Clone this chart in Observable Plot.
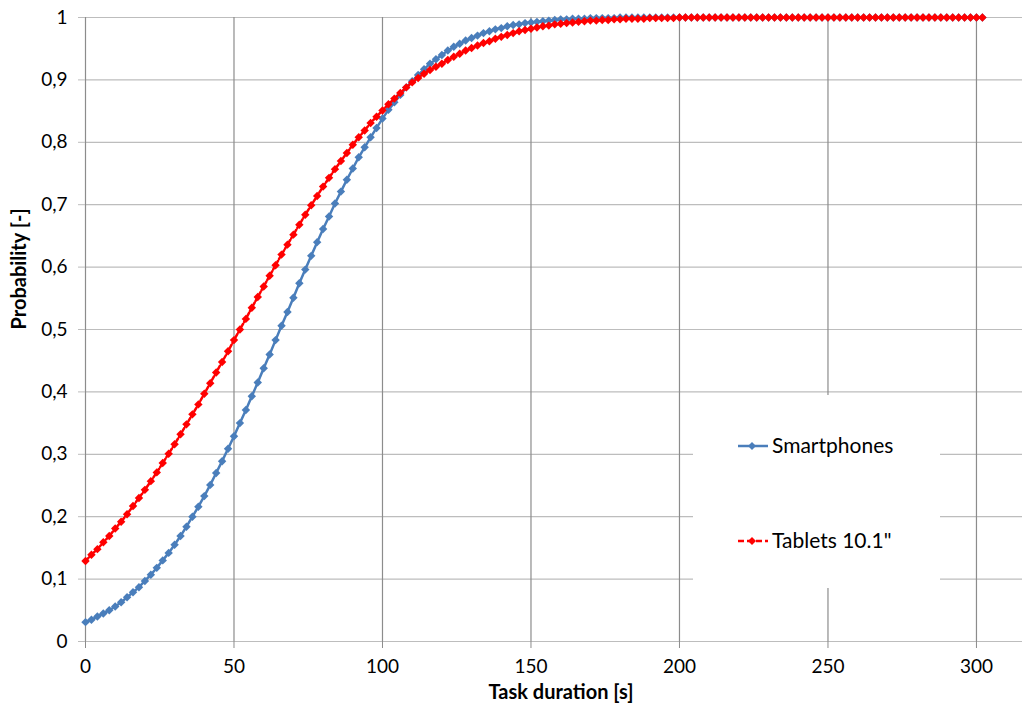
<!DOCTYPE html>
<html><head><meta charset="utf-8">
<script src="https://cdn.jsdelivr.net/npm/d3@7"></script>
<script src="https://cdn.jsdelivr.net/npm/@observablehq/plot@0.6"></script>
<style>
body{margin:0;background:#fff;}
#wrap{position:relative;width:1025px;height:706px;overflow:hidden;}
#legend{position:absolute;left:693px;top:395px;width:247px;height:193px;background:#fff;}
</style></head><body><div id="wrap"></div>
<script>
const durations = [0,2,4,6,8,10,12,14,16,18,20,22,24,26,28,30,32,34,36,38,40,42,44,46,48,50,52,54,56,58,
60,62,64,66,68,70,72,74,76,78,80,82,84,86,88,90,92,94,96,98,100,102,104,106,108,110,112,114,116,118,
120,122,124,126,128,130,132,134,136,138,140,142,144,146,148,150,152,154,156,158,160,162,164,166,168,170,172,174,176,178,
180,182,184,186,188,190,192,194,196,198,200,202,204,206,208,210,212,214,216,218,220,222,224,226,228,230,232,234,236,238,
240,242,244,246,248,250,252,254,256,258,260,262,264,266,268,270,272,274,276,278,280,282,284,286,288,290,292,294,296,298,300,302];

const smartphones = [
0.031,0.035,0.040,0.045,0.050,0.056,0.063,0.071,0.079,0.087,
0.097,0.107,0.118,0.130,0.142,0.155,0.169,0.184,0.200,0.216,
0.233,0.251,0.270,0.289,0.309,0.329,0.350,0.371,0.393,0.415,
0.438,0.460,0.483,0.506,0.528,0.551,0.574,0.596,0.618,0.640,
0.661,0.681,0.702,0.721,0.740,0.758,0.776,0.792,0.808,0.823,
0.838,0.852,0.864,0.876,0.888,0.898,0.908,0.917,0.926,0.933,
0.940,0.947,0.953,0.958,0.963,0.967,0.971,0.975,0.978,0.981,
0.983,0.986,0.988,0.989,0.991,0.992,0.993,0.994,0.995,0.996,
0.997,0.997,0.998,0.998,0.998,0.999,0.999,0.999,0.999,0.999,
1,1,1,1,1,1,1,1,1,1,
1,1,1,1,1,1,1,1,1,1,
1,1,1,1,1,1,1,1,1,1,
1,1,1,1,1,1,1,1,1,1,
1,1,1,1,1,1,1,1,1,1,
1,1,1,1,1,1,1,1,1,1,
1,1];

const tablets = [
0.129,0.139,0.148,0.159,0.169,0.181,0.192,0.204,0.217,0.230,
0.243,0.257,0.271,0.286,0.301,0.316,0.332,0.348,0.364,0.380,
0.397,0.414,0.431,0.448,0.465,0.483,0.500,0.517,0.535,0.552,
0.569,0.586,0.603,0.620,0.636,0.652,0.668,0.684,0.699,0.714,
0.729,0.743,0.757,0.770,0.783,0.796,0.808,0.819,0.831,0.841,
0.851,0.861,0.870,0.879,0.888,0.896,0.903,0.910,0.916,0.921,
0.926,0.932,0.937,0.942,0.947,0.951,0.955,0.959,0.962,0.966,
0.969,0.972,0.975,0.978,0.980,0.982,0.984,0.986,0.987,0.989,
0.990,0.991,0.992,0.993,0.994,0.995,0.995,0.996,0.996,0.997,
0.997,0.998,0.998,0.998,0.998,0.999,0.999,0.999,0.999,0.999,
1,1,1,1,1,1,1,1,1,1,
1,1,1,1,1,1,1,1,1,1,
1,1,1,1,1,1,1,1,1,1,
1,1,1,1,1,1,1,1,1,1,
1,1,1,1,1,1,1,1,1,1,
1,1];

const seriesNames = ["Smartphones", "Tablets 10.1\""];
const seriesColors = ["#4a7ebb", "#ff0000"];
const xTicks = [0, 50, 100, 150, 200, 250, 300];
const xTickLabels = ["0", "50", "100", "150", "200", "250", "300"];
const yTicks = [0, 0.1, 0.2, 0.3, 0.4, 0.5, 0.6, 0.7, 0.8, 0.9, 1];
const yTickLabels = ["0", "0,1", "0,2", "0,3", "0,4", "0,5", "0,6", "0,7", "0,8", "0,9", "1"];
const xTitle = "Task duration [s]";
const yTitle = "Probability [-]";

const rowsS = durations.map((d, i) => ({t: d, p: smartphones[i], s: seriesNames[0]}));
const rowsT = durations.map((d, i) => ({t: d, p: tablets[i], s: seriesNames[1]}));

const chart = Plot.plot({
  width: 1025, height: 706,
  marginLeft: 85, marginRight: 3, marginTop: 17, marginBottom: 65,
  style: {fontFamily: "Lato, sans-serif", fontSize: "19px", color: "#000", background: "#fff"},
  x: {domain: [0, 315.5]},
  y: {domain: [0, 1]},
  marks: [
    Plot.gridY(yTicks, {stroke: "#bdbdbd", strokeOpacity: 1, strokeWidth: 1.2}),
    Plot.gridX(xTicks, {stroke: "#8c8c8c", strokeOpacity: 1, strokeWidth: 1.2}),
    Plot.axisX(xTicks, {tickSize: 7, tickPadding: 11, stroke: "#8c8c8c", fill: "#000", label: null,
      tickFormat: d => xTickLabels[xTicks.indexOf(d)], fontSize: 19}),
    Plot.axisY(yTicks, {tickSize: 7, tickPadding: 11, stroke: "#bdbdbd", fill: "#000", label: null,
      tickFormat: d => yTickLabels[yTicks.indexOf(d)], fontSize: 19}),
    Plot.line(rowsS, {x: "t", y: "p", stroke: seriesColors[0], strokeWidth: 2.5}),
    Plot.dot(rowsS, {x: "t", y: "p", symbol: "diamond2", r: 3.8, fill: seriesColors[0], stroke: "none"}),
    Plot.line(rowsT, {x: "t", y: "p", stroke: seriesColors[1], strokeWidth: 2.5, strokeDasharray: "4,2"}),
    Plot.dot(rowsT, {x: "t", y: "p", symbol: "diamond2", r: 3.8, fill: seriesColors[1], stroke: "none"}),
    Plot.text([xTitle], {text: d => d, frameAnchor: "bottom", dy: 51, dx: 7, fontWeight: "bold", fontSize: 20, lineAnchor: "middle"}),
    Plot.text([yTitle], {text: d => d, frameAnchor: "left", dx: -66, rotate: -90, fontWeight: "bold", fontSize: 20, lineAnchor: "middle"})
  ]
});

const wrap = document.getElementById("wrap");
wrap.appendChild(chart);

// legend box inside the plot area
const legend = d3.select(wrap).append("div").attr("id", "legend");
const lsvg = legend.append("svg").attr("width", 247).attr("height", 193)
  .style("font-family", "Lato, sans-serif");
const legendY = [51, 146];
seriesNames.forEach((name, i) => {
  const g = lsvg.append("g").attr("transform", `translate(0,${legendY[i]})`);
  g.append("line").attr("x1", 45).attr("x2", 75).attr("y1", 0).attr("y2", 0)
    .attr("stroke", seriesColors[i]).attr("stroke-width", 2.5)
    .attr("stroke-dasharray", i === 1 ? "6,3" : null);
  g.append("path").attr("d", d3.symbol(d3.symbolDiamond2, 3.6 * 3.6 * Math.PI)())
    .attr("transform", "translate(59,0)").attr("fill", seriesColors[i]);
  g.append("text").attr("x", 79).attr("y", 0).attr("dy", "0.35em")
    .attr("font-size", 21).attr("fill", "#000").text(name);
});
</script>
</body></html>
